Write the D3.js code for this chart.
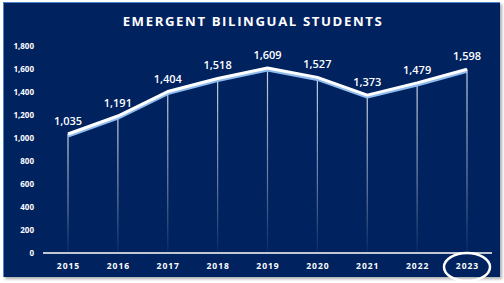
<!DOCTYPE html>
<html><head><meta charset="utf-8">
<script src="https://cdn.jsdelivr.net/npm/d3@7"></script>
<style>html,body{margin:0;padding:0;background:#fff;}svg{display:block;}</style>
</head><body>
<script>
const years = ["2015","2016","2017","2018","2019","2020","2021","2022","2023"];
const students = [1035,1191,1404,1518,1609,1527,1373,1479,1598];
const yTicks = [0,200,400,600,800,1000,1200,1400,1600,1800];
const title = "EMERGENT BILINGUAL STUDENTS";

const W=504,H=283;
const svg=d3.select("body").append("svg").attr("width",W).attr("height",H);
const defs=svg.append("defs");
const f=defs.append("filter").attr("id","sh").attr("x","-5%").attr("y","-5%").attr("width","115%").attr("height","115%");
f.append("feDropShadow").attr("dx",2).attr("dy",2).attr("stdDeviation",1.5).attr("flood-color","#888").attr("flood-opacity",0.7);
const g=defs.append("linearGradient").attr("id","drop").attr("x1",0).attr("y1",0).attr("x2",0).attr("y2",1).attr("gradientUnits","objectBoundingBox");
g.append("stop").attr("offset","0%").attr("stop-color","#fff").attr("stop-opacity",0.8);
g.append("stop").attr("offset","60%").attr("stop-color","#fff").attr("stop-opacity",0.4);
g.append("stop").attr("offset","100%").attr("stop-color","#fff").attr("stop-opacity",0.03);

svg.append("rect").attr("x",3).attr("y",2).attr("width",497).attr("height",275).attr("fill","#03205f").attr("filter","url(#sh)");
svg.append("path").attr("d","M3.5,277 V2.5 H500").attr("fill","none").attr("stroke","#4f86cf").attr("stroke-width",1);

const x=d3.scalePoint().domain(years).range([68,467]);
const y=d3.scaleLinear().domain([0,1800]).range([253,46]);

svg.append("text").attr("x",253).attr("y",26).attr("text-anchor","middle")
 .attr("fill","#fff").attr("font-family","'Open Sans',sans-serif").attr("font-weight",700)
 .attr("font-size",13.2).attr("letter-spacing",1.6).text(title);

const ya=svg.append("g").attr("transform","translate(34,0)")
 .call(d3.axisLeft(y).tickValues(yTicks).tickSize(0).tickPadding(0).tickFormat(d3.format(",")));
ya.select(".domain").remove();
ya.selectAll("text").attr("fill","#fff").attr("font-family","'Open Sans',sans-serif").attr("font-weight",700).attr("font-size",8);

// drop lines
svg.append("g").selectAll("rect").data(students).join("rect")
 .attr("x",(d,i)=>x(years[i])-0.6).attr("width",1.2)
 .attr("y",d=>y(d)).attr("height",d=>y(0)-y(d)).attr("fill","url(#drop)");

const xa=svg.append("g").attr("transform","translate(0,253)")
 .call(d3.axisBottom(x).tickSize(0).tickPadding(10));
xa.select(".domain").attr("d","M43,0H492").attr("stroke","#fff").attr("stroke-width",1.5);
xa.selectAll("text").attr("fill","#fff").attr("font-family","'Open Sans',sans-serif").attr("font-weight",700).attr("font-size",8.5).attr("letter-spacing",1);

const line=d3.line().x((d,i)=>x(years[i])).y(d=>y(d));
svg.append("path").datum(students).attr("d",line).attr("transform","translate(0,1.8)")
 .attr("fill","none").attr("stroke","#8fbcec").attr("stroke-width",3.5).attr("stroke-linejoin","round");
svg.append("path").datum(students).attr("d",line)
 .attr("fill","none").attr("stroke","#fff").attr("stroke-width",3).attr("stroke-linejoin","round");

svg.append("g").selectAll("text").data(students).join("text")
 .attr("x",(d,i)=>x(years[i])).attr("y",d=>y(d)-9).attr("text-anchor","middle")
 .attr("fill","#fff").attr("font-family","'Open Sans',sans-serif").attr("font-weight",600).attr("font-size",11)
 .text(d=>d3.format(",")(d));

svg.append("ellipse").attr("cx",x("2023")).attr("cy",267).attr("rx",23).attr("ry",14)
 .attr("fill","none").attr("stroke","#fff").attr("stroke-width",2.5);
</script>
</body></html>
